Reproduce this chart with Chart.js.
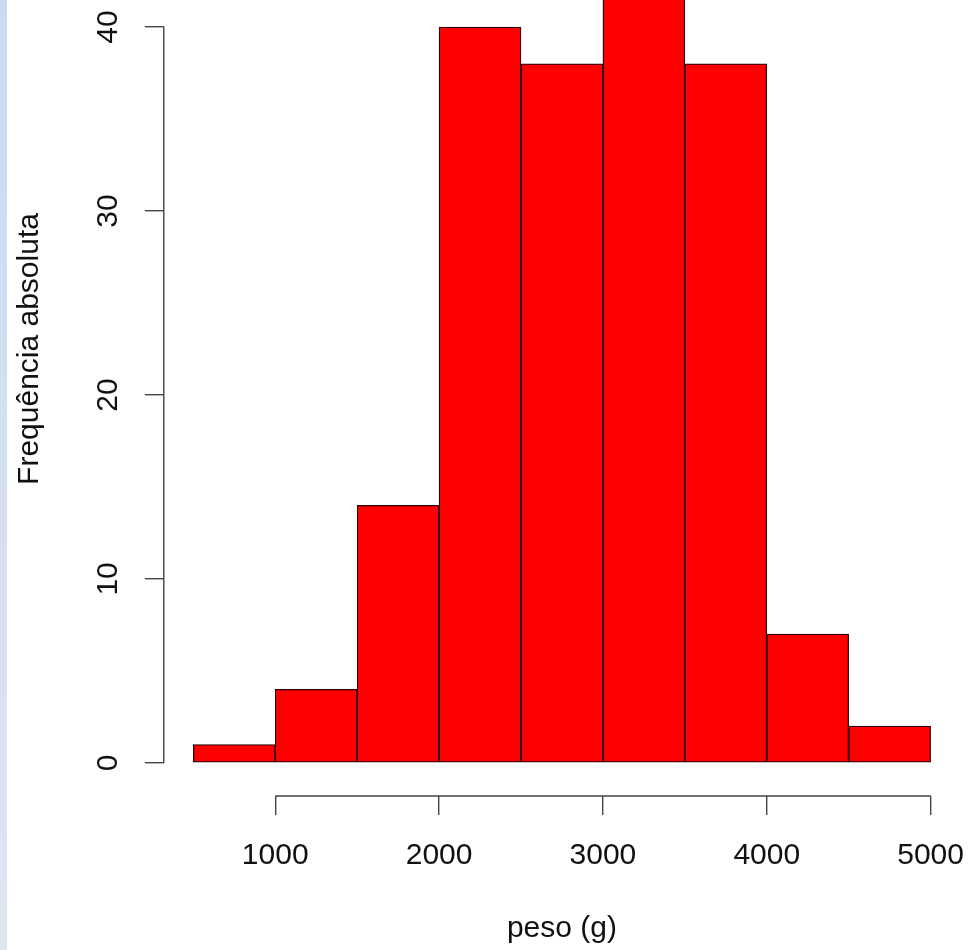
<!DOCTYPE html>
<html>
<head>
<meta charset="utf-8">
<script src="https://cdn.jsdelivr.net/npm/chart.js@4.4.1/dist/chart.umd.min.js"></script>
<style>
  html, body { margin: 0; padding: 0; width: 968px; height: 950px; overflow: hidden; background: #fff; }
  .strip { position: absolute; left: 0; top: 0; width: 7px; height: 950px; background: linear-gradient(#c9daf3, #dee6f1); z-index: 2; }
  .plot { position: absolute; left: 0; top: -98px; width: 968px; height: 1048px; }
</style>
</head>
<body>
<div class="strip"></div>
<div class="plot"><canvas id="hist"></canvas></div>
<script>
// histogram bins (peso em g) and counts
const BIN_MID = [750, 1250, 1750, 2250, 2750, 3250, 3750, 4250, 4750]
const COUNTS = [1, 4, 14, 40, 38, 45, 38, 7, 2]
const X_TICKS = [1000, 2000, 3000, 4000, 5000]
const Y_TICKS = [0, 10, 20, 30, 40]
const X_TITLE = 'peso (g)'
const Y_TITLE = 'Frequência absoluta'

const FONT = "'Liberation Sans', Arial, Helvetica, sans-serif"
const INK = '#111'
const AXIS = '#444'

// R draws the axis line only between the first and last tick
const rAxisLines = {
    id: 'rAxisLines',
    afterDraw(chart) {
        const ctx = chart.ctx
        const xs = chart.scales.x
        const ys = chart.scales.y
        const area = chart.chartArea
        ctx.save()
        ctx.strokeStyle = AXIS
        ctx.lineWidth = 1.4
        ctx.beginPath()
        ctx.moveTo(area.left, ys.getPixelForValue(Y_TICKS[0]))
        ctx.lineTo(area.left, ys.getPixelForValue(Y_TICKS[Y_TICKS.length - 1]))
        ctx.moveTo(xs.getPixelForValue(X_TICKS[0]), area.bottom)
        ctx.lineTo(xs.getPixelForValue(X_TICKS[X_TICKS.length - 1]), area.bottom)
        ctx.stroke()
        ctx.restore()
    }
}

const points = BIN_MID.map((m, i) => ({x: m, y: COUNTS[i]}))

new Chart(document.getElementById('hist'), {
    type: 'bar',
    data: {
        datasets: [{
            data: points,
            backgroundColor: '#ff0000',
            borderColor: '#2a0000',
            borderWidth: 1.3,
            borderSkipped: false,
            barPercentage: 1,
            categoryPercentage: 1
        }]
    },
    options: {
        responsive: true,
        maintainAspectRatio: false,
        animation: false,
        layout: { padding: { left: 0, right: 7.9, top: 0, bottom: 0 } },
        plugins: {
            legend: { display: false },
            tooltip: { enabled: false }
        },
        scales: {
            x: {
                type: 'linear',
                offset: false,
                min: 320,
                max: 5180,
                afterBuildTicks: (scale) => { scale.ticks = X_TICKS.map(v => ({value: v})) },
                afterFit: (scale) => {
                    scale.height = 154
                    scale.paddingLeft = 0
                    scale.paddingRight = 0
                },
                border: { display: false },
                grid: {
                    offset: false,
                    drawOnChartArea: false,
                    drawTicks: true,
                    tickLength: 19,
                    color: AXIS,
                    lineWidth: 1.4
                },
                ticks: {
                    font: { family: FONT, size: 30 },
                    color: INK,
                    padding: 23,
                    maxRotation: 0,
                    autoSkip: false,
                    callback: (v) => String(v)
                },
                title: {
                    display: true,
                    text: X_TITLE,
                    font: { family: FONT, size: 30 },
                    color: INK,
                    padding: { top: 0, bottom: 3.5 }
                }
            },
            y: {
                min: -1.8,
                max: 46.8,
                afterBuildTicks: (scale) => { scale.ticks = Y_TICKS.map(v => ({value: v})) },
                afterFit: (scale) => {
                    scale.width = 163.8
                    scale.paddingTop = 0
                    scale.paddingBottom = 0
                },
                border: { display: false },
                grid: {
                    drawOnChartArea: false,
                    drawTicks: true,
                    tickLength: 19,
                    color: AXIS,
                    lineWidth: 1.4
                },
                ticks: {
                    font: { family: FONT, size: 30 },
                    color: INK,
                    padding: 19,
                    minRotation: 90,
                    maxRotation: 90,
                    crossAlign: 'center',
                    autoSkip: false
                },
                title: {
                    display: true,
                    text: Y_TITLE,
                    font: { family: FONT, size: 30 },
                    color: INK,
                    padding: { top: 11.5, bottom: 0 }
                }
            }
        }
    },
    plugins: [rAxisLines]
})
</script>
</body>
</html>
